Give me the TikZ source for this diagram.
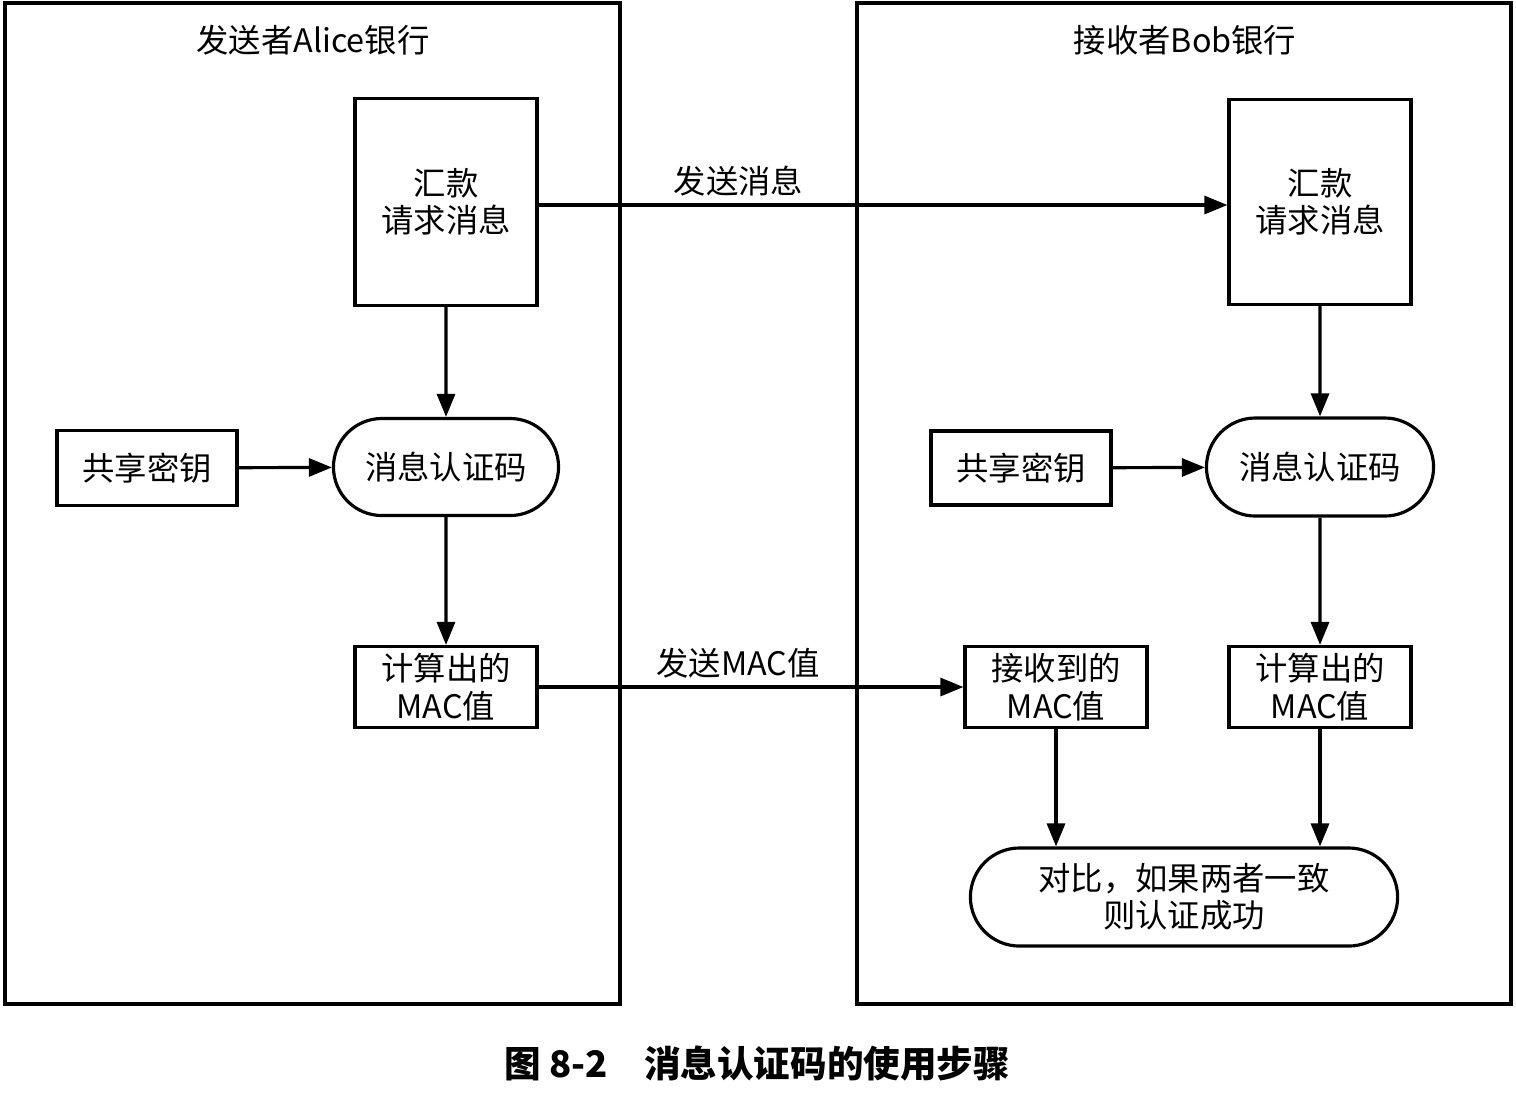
\documentclass[tikz,border=0pt]{standalone}
\usepackage{fontspec}
\setmainfont{Noto Sans CJK SC}
\usetikzlibrary{arrows.meta,shapes.misc}

\begin{document}
\begin{tikzpicture}[x=0.01cm,y=-0.01cm,
    font=\fontsize{9.2}{10.6}\selectfont,
    every node/.style={align=center,inner sep=1pt},
    box/.style={draw,line width=0.9pt,minimum width=1.82cm,minimum height=0.81cm},
    pill/.style={draw,line width=0.9pt,rounded rectangle,minimum height=0.97cm},
    arr/.style={-{Triangle[length=2.3mm,width=1.8mm]},line width=0.9pt}]
    % Page
    \useasboundingbox (0,0) rectangle (1516,1096);
    \fill[white] (0,0) rectangle (1516,1096);

    % Sender and receiver frames
    \draw[line width=0.9pt] (5,3) rectangle (620,1004);
    \draw[line width=0.9pt] (857,3) rectangle (1511,1004);
    \node (titleL) at (313,40) {发送者Alice银行};
    \node (titleR) at (1185,40) {接收者Bob银行};

    % Sender side
    \node[box,minimum height=2.07cm] (msgL) at (446,202) {汇款\\请求消息};
    \node[box,minimum width=1.80cm,minimum height=0.75cm] (keyL) at (147,468) {共享密钥};
    \node[pill,minimum width=2.32cm] (macL) at (446,467) {消息认证码};
    \node[box] (calcL) at (446,687) {计算出的\\MAC值};

    % Receiver side
    \node[box,minimum height=2.05cm] (msgR) at (1320,202) {汇款\\请求消息};
    \node[box,minimum width=1.80cm,minimum height=0.74cm] (keyR) at (1021,468) {共享密钥};
    \node[pill,minimum width=2.34cm,minimum height=0.98cm] (macR) at (1320,467) {消息认证码};
    \node[box] (recvR) at (1056,687) {接收到的\\MAC值};
    \node[box] (calcR) at (1320,687) {计算出的\\MAC值};
    \node[pill,minimum width=4.34cm,minimum height=0.98cm] (cmpR) at (1184,897) {对比，如果两者一致\\则认证成功};

    % Connectors
    \draw[arr] (msgL) -- (macL);
    \draw[arr] (keyL) -- (macL);
    \draw[arr] (macL) -- (calcL);
    \draw[arr] ([yshift=-0.03cm]msgL.east) -- node[pos=0.29,above=1pt] {发送消息} ([yshift=-0.03cm]msgR.west);
    \draw[arr] (calcL.east) -- node[pos=0.47,above=1pt] {发送MAC值} (recvR.west);
    \draw[arr] (msgR) -- (macR);
    \draw[arr] (keyR) -- (macR);
    \draw[arr] (macR) -- (calcR);
    \draw[arr] (recvR.south) -- (recvR.south |- cmpR.north);
    \draw[arr] (calcR.south) -- (calcR.south |- cmpR.north);

    % Caption
    \node[font=\fontsize{10.4}{12}\selectfont\bfseries] (caption) at (757,1063) {图 8-2\quad 消息认证码的使用步骤};
\end{tikzpicture}
\end{document}
